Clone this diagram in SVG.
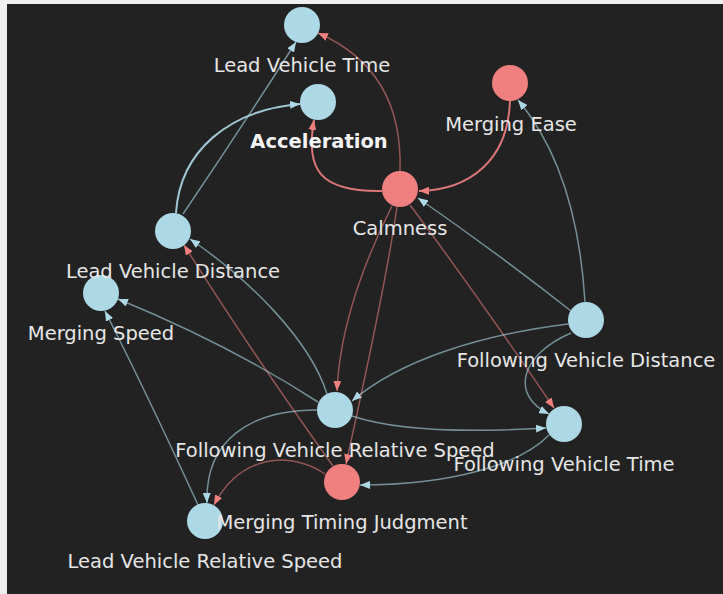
<svg xmlns="http://www.w3.org/2000/svg" width="723" height="594" viewBox="0 0 723 594">
<defs>
<style>
.bg{fill:#222222}
.nb{fill:#add8e6}
.nr{fill:#f08080}
.lbl{font-family:"DejaVu Sans",Verdana,sans-serif;font-size:19.5px;fill:#e6e6e6;text-anchor:middle}
.bold{font-weight:bold;fill:#f4f4f4}
.eb{fill:none;stroke:#add8e6;stroke-opacity:0.6;stroke-width:1.5;marker-end:url(#ab)}
.er{fill:none;stroke:#f08080;stroke-opacity:0.55;stroke-width:1.5;marker-end:url(#ar)}
.strong{stroke-opacity:0.9;stroke-width:2}
</style>
<marker id="ab" markerWidth="10" markerHeight="8" refX="10" refY="4" orient="auto" markerUnits="userSpaceOnUse">
<path d="M0,0 L10,4 L0,8 Z" fill="#add8e6"/>
</marker>
<marker id="ar" markerWidth="10" markerHeight="8" refX="10" refY="4" orient="auto" markerUnits="userSpaceOnUse">
<path d="M0,0 L10,4 L0,8 Z" fill="#f08080"/>
</marker>
</defs>
<rect x="0" y="0" width="723" height="594" fill="#f0f0f0"/>
<rect class="bg" x="7" y="4" width="716" height="590"/>
<g id="edges">
<path class="er" d="M400,171 C402,110 380,60 318,33"/>
<path class="er strong" d="M382,191 C320,192 305,170 314,120"/>
<path class="er strong" d="M510,101 C508,160 470,190 419,191"/>
<path class="er" d="M392,206 C370,250 340,320 337,391"/>
<path class="er" d="M397,207 C385,290 360,400 346,464"/>
<path class="er" d="M410,205 Q470,285 554,408"/>
<path class="er" d="M333,466 Q250,350 184,245"/>
<path class="er" d="M325,474 C290,450 240,455 214,505"/>
<path class="eb" d="M183,214 Q240,130 296,42"/>
<path class="eb strong" d="M176,213 C180,150 230,110 300,104"/>
<path class="eb" d="M327,394 C310,340 250,280 190,239"/>
<path class="eb" d="M318,402 Q230,345 118,299"/>
<path class="eb" d="M198,505 Q150,400 105,311"/>
<path class="eb" d="M571,311 Q500,255 418,198"/>
<path class="eb" d="M585,302 C580,220 560,150 518,100"/>
<path class="eb" d="M568,324 C480,335 400,360 352,401"/>
<path class="eb" d="M571,333 C520,355 510,395 549,414"/>
<path class="eb" d="M352,416 C400,432 480,432 546,428"/>
<path class="eb" d="M317,410 C250,410 205,440 207,503"/>
<path class="eb" d="M549,435 C520,465 450,485 360,485"/>
</g>
<g id="lead-vehicle-time"><circle class="nb" cx="302" cy="25" r="18"/><text class="lbl" x="302" y="72">Lead Vehicle Time</text></g>
<g id="acceleration"><circle class="nb" cx="318" cy="102" r="18"/><text class="lbl bold" x="319" y="148">Acceleration</text></g>
<g id="merging-ease"><circle class="nr" cx="510" cy="83" r="18"/><text class="lbl" x="511" y="131">Merging Ease</text></g>
<g id="calmness"><circle class="nr" cx="400" cy="189" r="18"/><text class="lbl" x="400" y="235">Calmness</text></g>
<g id="merging-speed"><circle class="nb" cx="101" cy="293" r="18"/><text class="lbl" x="101" y="340">Merging Speed</text></g>
<g id="lead-vehicle-distance"><circle class="nb" cx="173" cy="231" r="18"/><text class="lbl" x="173" y="278">Lead Vehicle Distance</text></g>
<g id="following-vehicle-distance"><circle class="nb" cx="586" cy="320" r="18"/><text class="lbl" x="586" y="367">Following Vehicle Distance</text></g>
<g id="lead-vehicle-relative-speed"><circle class="nb" cx="205" cy="521" r="18"/><text class="lbl" x="205" y="568">Lead Vehicle Relative Speed</text></g>
<g id="following-vehicle-time"><circle class="nb" cx="564" cy="424" r="18"/><text class="lbl" x="564" y="471">Following Vehicle Time</text></g>
<g id="following-vehicle-relative-speed"><circle class="nb" cx="335" cy="410" r="18"/><text class="lbl" x="335" y="457">Following Vehicle Relative Speed</text></g>
<g id="merging-timing-judgment"><circle class="nr" cx="342" cy="482" r="18"/><text class="lbl" x="342" y="529">Merging Timing Judgment</text></g>
</svg>
